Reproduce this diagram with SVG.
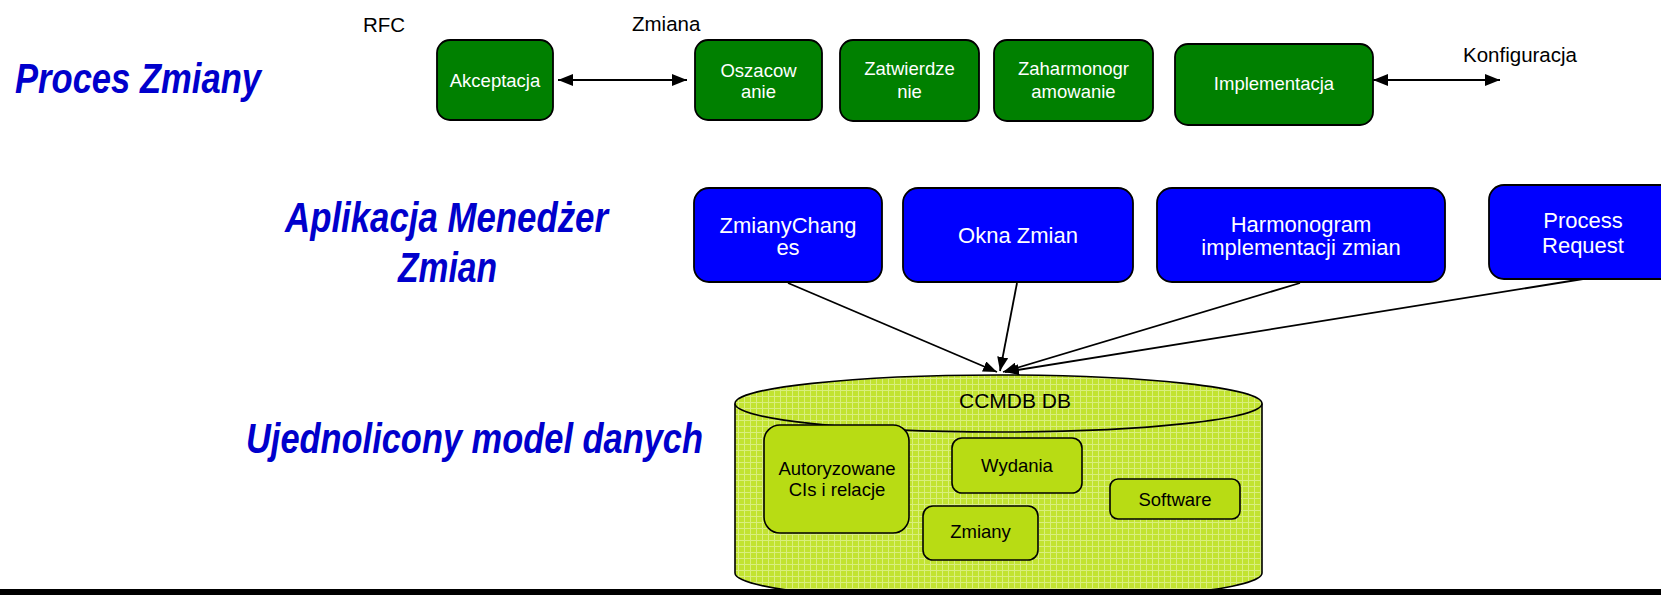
<svg xmlns="http://www.w3.org/2000/svg" width="1661" height="595" viewBox="0 0 1661 595">
<style>
.lbl{font-family:"Liberation Sans Narrow","Liberation Sans",Arial,sans-serif;font-weight:bold;font-style:italic;font-size:42px;fill:#0000CC}
.t{font-family:"Liberation Sans",Arial,sans-serif;fill:#000;font-size:20.5px}
.g{fill:#008000;stroke:#000;stroke-width:1.8}
.b{fill:#0000FF;stroke:#000;stroke-width:1.8}
.w{font-family:"Liberation Sans",Arial,sans-serif;fill:#fff;text-anchor:middle}
.s{font-size:18.5px}
.m{font-size:22px}
.y{fill:#B8DC14;stroke:#000;stroke-width:1.6}
.k{font-family:"Liberation Sans",Arial,sans-serif;fill:#000;text-anchor:middle;font-size:18.5px}
.c{stroke:#000;fill:none}
</style>
<defs>
<pattern id="grid" width="6" height="6" patternUnits="userSpaceOnUse">
<rect width="6" height="6" fill="#C2E331"/>
<path d="M0,0.5H6M0.5,0V6" stroke="#D9EF7E" stroke-width="1"/>
</pattern>
<marker id="ah" markerUnits="userSpaceOnUse" markerWidth="15" markerHeight="12" refX="15" refY="6" orient="auto-start-reverse">
<path d="M0,0L15,6L0,12z" fill="#000"/>
</marker>
<marker id="ah2" markerUnits="userSpaceOnUse" markerWidth="14" markerHeight="11" refX="14" refY="5.5" orient="auto">
<path d="M0,0L14,5.5L0,11z" fill="#000"/>
</marker>
</defs>
<rect width="1661" height="595" fill="#fff"/>

<g id="labels">
<text class="lbl" x="15" y="93" textLength="246" lengthAdjust="spacingAndGlyphs">Proces Zmiany</text>
<text class="lbl" x="285" y="232" textLength="323" lengthAdjust="spacingAndGlyphs">Aplikacja Menedżer</text>
<text class="lbl" x="398" y="282" textLength="99" lengthAdjust="spacingAndGlyphs">Zmian</text>
<text class="lbl" x="246" y="453" textLength="457" lengthAdjust="spacingAndGlyphs">Ujednolicony model danych</text>
</g>

<g id="top-texts">
<text class="t" x="363" y="32">RFC</text>
<text class="t" x="632" y="31">Zmiana</text>
<text class="t" x="1463" y="62">Konfiguracja</text>
</g>

<g id="akceptacja">
<rect class="g" x="437" y="40" width="116" height="80" rx="13"/>
<text class="w s" x="495" y="87">Akceptacja</text>
</g>
<g id="oszacowanie">
<rect class="g" x="695" y="40" width="127" height="80" rx="13"/>
<text class="w s" x="758.5" y="77">Oszacow</text>
<text class="w s" x="758.5" y="98">anie</text>
</g>
<g id="zatwierdzenie">
<rect class="g" x="840" y="40" width="139" height="81" rx="13"/>
<text class="w s" x="909.5" y="75">Zatwierdze</text>
<text class="w s" x="909.5" y="98">nie</text>
</g>
<g id="zaharmonogramowanie">
<rect class="g" x="994" y="40" width="159" height="81" rx="13"/>
<text class="w s" x="1073.5" y="75">Zaharmonogr</text>
<text class="w s" x="1073.5" y="98">amowanie</text>
</g>
<g id="implementacja">
<rect class="g" x="1175" y="44" width="198" height="81" rx="13"/>
<text class="w s" x="1274" y="90">Implementacja</text>
</g>

<g id="zmianychanges">
<rect class="b" x="694" y="188" width="188" height="94" rx="15"/>
<text class="w m" x="788" y="233">ZmianyChang</text>
<text class="w m" x="788" y="255">es</text>
</g>
<g id="okna-zmian">
<rect class="b" x="903" y="188" width="230" height="94" rx="15"/>
<text class="w m" x="1018" y="243">Okna Zmian</text>
</g>
<g id="harmonogram">
<rect class="b" x="1157" y="188" width="288" height="94" rx="15"/>
<text class="w m" x="1301" y="232">Harmonogram</text>
<text class="w m" x="1301" y="255">implementacji zmian</text>
</g>
<g id="process-request">
<rect class="b" x="1489" y="185" width="190" height="94" rx="15"/>
<text class="w m" x="1583" y="228">Process</text>
<text class="w m" x="1583" y="253">Request</text>
</g>

<g id="ccmdb">
<path d="M735,403.5 V573 A263.5,28.5 0 0 0 1262,573 V403.5" fill="url(#grid)" stroke="#000" stroke-width="1.6"/>
<ellipse cx="998.5" cy="403.5" rx="263.5" ry="28.5" fill="url(#grid)" stroke="#000" stroke-width="1.6"/>
<text class="k" x="1015" y="408" style="font-size:21px">CCMDB DB</text>
</g>
<g id="autoryzowane">
<rect class="y" x="764" y="425" width="145" height="108" rx="16"/>
<text class="k" x="837" y="475">Autoryzowane</text>
<text class="k" x="837" y="496">CIs i relacje</text>
</g>
<g id="wydania">
<rect class="y" x="952" y="438" width="130" height="55" rx="10"/>
<text class="k" x="1017" y="472">Wydania</text>
</g>
<g id="zmiany">
<rect class="y" x="923" y="506" width="115" height="54" rx="10"/>
<text class="k" x="980.5" y="538">Zmiany</text>
</g>
<g id="software">
<rect class="y" x="1110" y="479" width="130" height="40" rx="8"/>
<text class="k" x="1175" y="506">Software</text>
</g>

<g id="connectors">
<line class="c" x1="558" y1="80" x2="687" y2="80" stroke-width="2.2" marker-start="url(#ah)" marker-end="url(#ah)"/>
<line class="c" x1="1373" y1="80" x2="1500" y2="80" stroke-width="2.2" marker-start="url(#ah)" marker-end="url(#ah)"/>
<line class="c" x1="788" y1="283" x2="997" y2="372" stroke-width="1.8" marker-end="url(#ah2)"/>
<line class="c" x1="1017" y1="283" x2="1000" y2="371" stroke-width="1.8" marker-end="url(#ah2)"/>
<line class="c" x1="1300" y1="283" x2="1003" y2="372" stroke-width="1.8" marker-end="url(#ah2)"/>
<line class="c" x1="1583" y1="279" x2="1005" y2="372" stroke-width="1.8" marker-end="url(#ah2)"/>
</g>

<rect id="bottom-rule" x="0" y="589" width="1661" height="6" fill="#000"/>
</svg>
